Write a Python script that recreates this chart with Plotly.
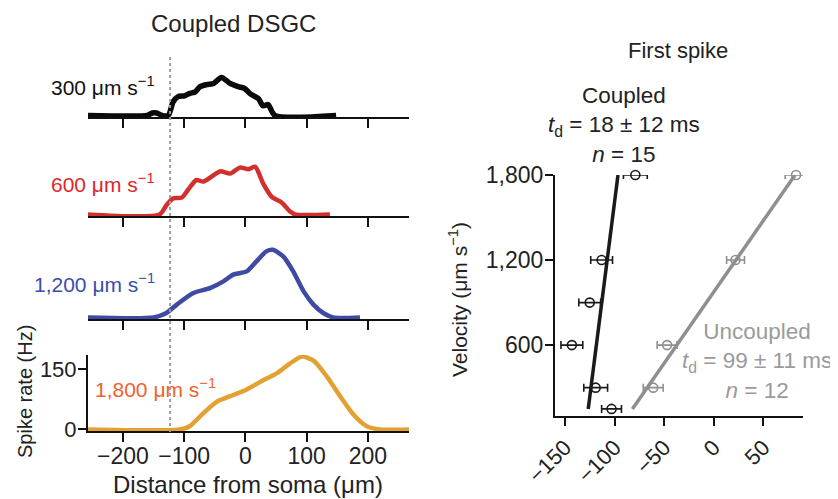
import plotly.graph_objects as go

# page body has an 8px default margin, so the figure is drawn 8px in from the top-left
OFF = 8
W, H = 838 - OFF, 499 - OFF
FONT = "Liberation Sans, Arial, Helvetica, sans-serif"

# ---------------- data: left panels (distance from soma, spike rate) ----------------
dist_300 = [-257, -160, -152, -145, -136, -126, -118, -110, -99, -91, -82, -74, -63, -52, -39, -25, -12, -1, 7, 21, 29, 37, 48, 148]
rate_300 = [0, 0, 6, 6, 0, 0, 34, 47, 49, 55, 59, 72, 77, 80, 95, 80, 72, 67, 55, 42, 24, 27, 0, 0]

dist_600 = [-257, -140, -129, -118, -104, -93, -80, -69, -52, -41, -25, -9, 5, 16, 29, 43, 59, 73, 81, 138]
rate_600 = [0, 0, 23, 40, 42, 63, 86, 82, 98, 108, 102, 117, 113, 119, 77, 44, 30, 7, 0, 0]

dist_1200 = [-257, -150, -129, -112, -85, -58, -36, -20, 2, 18, 34, 45, 62, 78, 95, 111, 127, 143, 187]
rate_1200 = [0, 0, 11, 32, 61, 73, 90, 107, 115, 140, 165, 169, 152, 115, 65, 32, 11, 0, 0]

dist_1800 = [-257, -107, -91, -69, -47, -20, 2, 29, 51, 73, 92, 111, 133, 155, 177, 198, 220, 267]
rate_1800 = [0, 0, 8, 40, 69, 86, 100, 123, 140, 165, 182, 172, 132, 82, 36, 8, 0, 0]

dist_ticks = [-200, -100, 0, 100, 200]
rate_ticks = [0, 150]
soma_edge = -123

speed_labels = ["300 μm s<sup>−1</sup>", "600 μm s<sup>−1</sup>",
                "1,200 μm s<sup>−1</sup>", "1,800 μm s<sup>−1</sup>"]

# ---------------- data: right panel (first spike) ----------------
coupled_v = [1800, 1200, 900, 600, 300, 150]
coupled_x = [-79, -113, -125, -143, -119, -103]
coupled_err = [12, 11, 11, 11, 12, 10]
coupled_fit_v = [150, 1800]
coupled_fit_x = [-126.5, -96.5]

uncoupled_v = [1800, 1200, 600, 300]
uncoupled_x = [83, 22, -47, -61]
uncoupled_err = [11, 9, 10, 10]
uncoupled_fit_v = [150, 1800]
uncoupled_fit_x = [-82, 82]

right_xticks = [-150, -100, -50, 0, 50]
right_yticks = [600, 1200, 1800]

# ---------------- helpers ----------------
def px(x):
    return (x - OFF) / W

def py(y):
    return 1 - (y - OFF) / H

curve_colors = ["#0a0a0a", "#d2302c", "#3f4ba3", "#e4a133"]
label_colors = ["#111111", "#e0262b", "#3a4ea6", "#f0632c"]
panels = [(41, 117), (140, 216), (243, 319), (355, 431)]
xs = [dist_300, dist_600, dist_1200, dist_1800]
ys = [rate_300, rate_600, rate_1200, rate_1800]
widths = [5.5, 4.5, 4.5, 4.5]

fig = go.Figure()
layout = dict(
    width=W, height=H, autosize=False,
    margin=dict(l=0, r=0, t=0, b=0, pad=0, autoexpand=False),
    paper_bgcolor="white", plot_bgcolor="rgba(0,0,0,0)",
    showlegend=False,
    font=dict(family=FONT, size=22, color="#222"),
)

left_dom = [px(88), px(409)]
for i in range(4):
    n = i + 1
    sfx = "" if n == 1 else str(n)
    fig.add_trace(go.Scatter(
        x=xs[i], y=ys[i], mode="lines",
        line=dict(color=curve_colors[i], width=widths[i], shape="spline", smoothing=0.7),
        xaxis="x" + sfx, yaxis="y" + sfx, hoverinfo="skip"))
    top, bot = panels[i]
    layout["xaxis" + sfx] = dict(
        domain=left_dom, range=[-257, 267], anchor="y" + sfx, automargin=False,
        showline=True, linecolor="#111", linewidth=2,
        ticks="outside", ticklen=9, tickwidth=2, tickcolor="#111",
        tickvals=dist_ticks, showticklabels=(n == 4), ticklabelstandoff=-6,
        tickfont=dict(size=23, color="#222", family=FONT),
        showgrid=False, zeroline=False, fixedrange=True)
    ydict = dict(domain=[py(bot), py(top)], range=[-4, 186], anchor="x" + sfx, automargin=False,
                 showgrid=False, zeroline=False, fixedrange=True)
    if n == 4:
        ydict.update(showline=True, linecolor="#111", linewidth=2,
                     ticks="outside", ticklen=8, tickwidth=2, tickcolor="#111", ticklabelstandoff=-3,
                     tickvals=rate_ticks, tickfont=dict(size=22, color="#222", family=FONT))
    else:
        ydict.update(visible=False)
    layout["yaxis" + sfx] = ydict

# right panel
fig.add_trace(go.Scatter(x=coupled_fit_x, y=coupled_fit_v, mode="lines",
                         line=dict(color="#1a1a1a", width=3.5),
                         xaxis="x5", yaxis="y5", hoverinfo="skip"))
fig.add_trace(go.Scatter(x=uncoupled_fit_x, y=uncoupled_fit_v, mode="lines",
                         line=dict(color="#8f8f8f", width=3.5),
                         xaxis="x5", yaxis="y5", hoverinfo="skip"))
fig.add_trace(go.Scatter(x=coupled_x, y=coupled_v, mode="markers",
                         marker=dict(symbol="circle-open", size=9, color="#1a1a1a", line=dict(width=1.6)),
                         error_x=dict(type="data", array=coupled_err, color="#1a1a1a", thickness=1.6, width=4),
                         cliponaxis=False, xaxis="x5", yaxis="y5", hoverinfo="skip"))
fig.add_trace(go.Scatter(x=uncoupled_x, y=uncoupled_v, mode="markers",
                         marker=dict(symbol="circle-open", size=9, color="#8f8f8f", line=dict(width=1.6)),
                         error_x=dict(type="data", array=uncoupled_err, color="#8f8f8f", thickness=1.6, width=4),
                         cliponaxis=False, xaxis="x5", yaxis="y5", hoverinfo="skip"))

layout["xaxis5"] = dict(domain=[px(555), px(803)], range=[-160, 90], anchor="y5", automargin=False,
                        showline=True, linecolor="#111", linewidth=2,
                        ticks="outside", ticklen=8, tickwidth=2, tickcolor="#111",
                        tickvals=right_xticks, tickangle=-45,
                        tickfont=dict(size=22, color="#222", family=FONT),
                        showgrid=False, zeroline=False, fixedrange=True)
layout["yaxis5"] = dict(domain=[py(416), py(175)], range=[100, 1800], anchor="x5", automargin=False,
                        showline=True, linecolor="#111", linewidth=2,
                        ticks="outside", ticklen=8, tickwidth=2, tickcolor="#111", ticklabelstandoff=-3,
                        tickvals=right_yticks, tickformat=",",
                        tickfont=dict(size=23, color="#222", family=FONT),
                        showgrid=False, zeroline=False, fixedrange=True)

annotations = []
def ann(text, x, y, size=22, color="#222", xanchor="center", yanchor="middle", angle=0):
    annotations.append(dict(text=text, x=px(x), y=py(y), xref="paper", yref="paper",
                            showarrow=False, xanchor=xanchor, yanchor=yanchor, textangle=angle,
                            font=dict(size=size, color=color, family=FONT)))

ann("Coupled DSGC", 233, 23, size=24)
ann("First spike", 678, 50, size=22)
label_pos = [(157, 86), (157, 183), (157, 283), (218, 388)]
for i in range(4):
    ann(speed_labels[i], label_pos[i][0], label_pos[i][1], size=21, color=label_colors[i], xanchor="right")
ann("Spike rate (Hz)", 25, 392, size=20, angle=-90)
ann("Distance from soma (μm)", 248, 484, size=24)
ann("Velocity (μm s<sup>−1</sup>)", 458, 300, size=21, angle=-90)
ann("Coupled<br><i>t</i><sub>d</sub> = 18 ± 12 ms<br><i>n</i> = 15", 624, 125, size=22.5, color="#222")
ann("Uncoupled<br><i>t</i><sub>d</sub> = 99 ± 11 ms<br><i>n</i> = 12", 757, 361, size=22.5, color="#9a9a9a")

layout["annotations"] = annotations
layout["shapes"] = [dict(type="line", xref="x", yref="paper", x0=soma_edge, x1=soma_edge,
                         y0=py(432), y1=py(55), line=dict(color="#a39c9c", width=2, dash="3px,3px"))]

fig.update_layout(**layout)
fig.write_html("out.html")
